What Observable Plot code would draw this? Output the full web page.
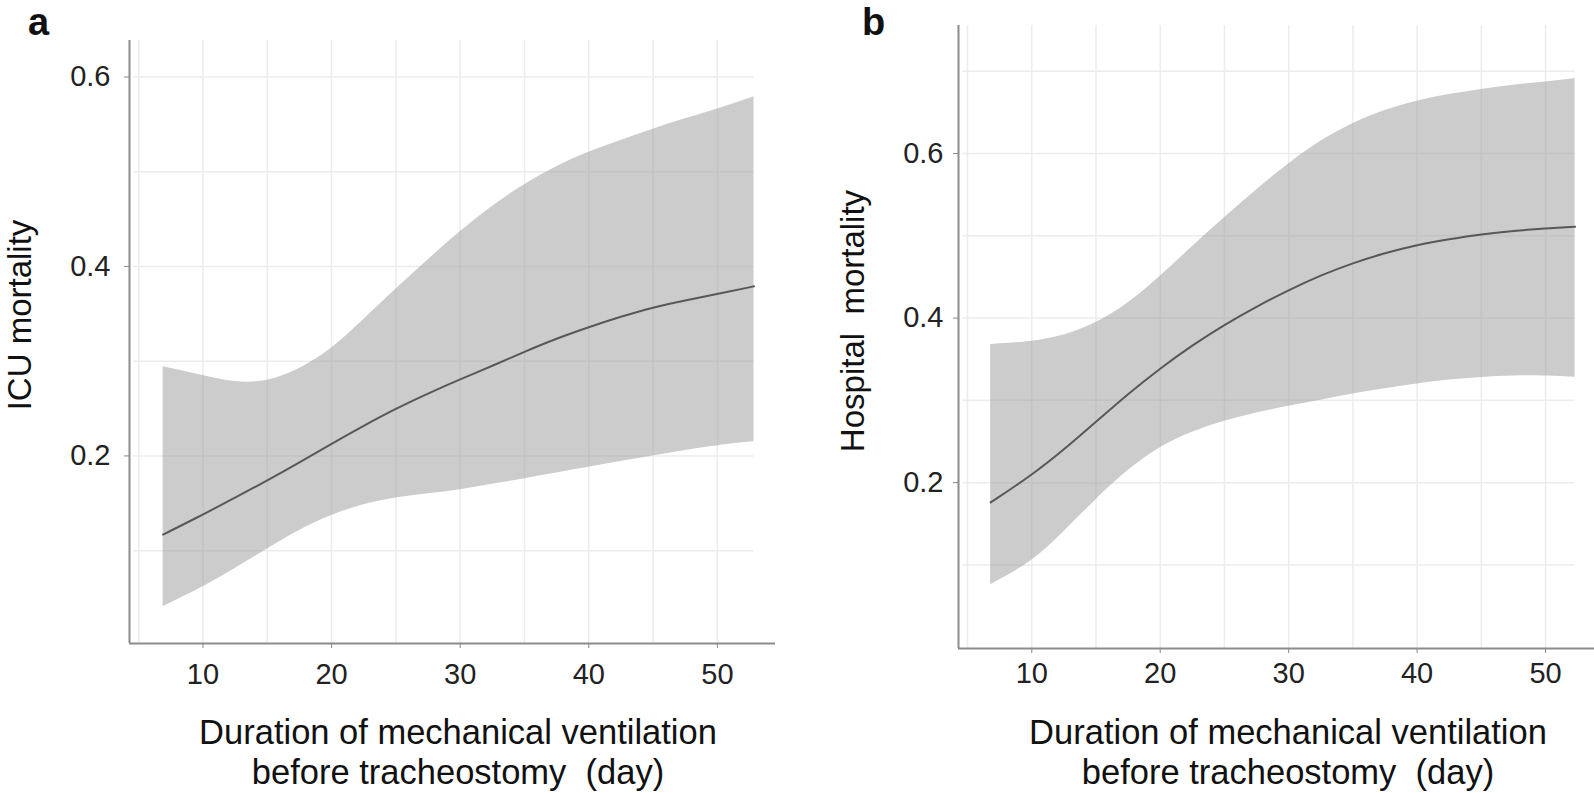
<!DOCTYPE html>
<html>
<head>
<meta charset="utf-8">
<script src="https://cdn.jsdelivr.net/npm/d3@7"></script>
<script src="https://cdn.jsdelivr.net/npm/@observablehq/plot@0.6"></script>
<style>
  html, body { margin: 0; padding: 0; background: #fff; }
  #wrap { position: relative; width: 1594px; height: 793px; overflow: hidden;
          font-family: "Liberation Sans", Arial, sans-serif; color: #111; }
  .panel { position: absolute; top: 0; }
  .letter { position: absolute; font-weight: bold; font-size: 38px; line-height: 44px; }
  .ytitle { position: absolute; font-size: 33px; line-height: 37px; white-space: pre;
            transform: translate(-50%, -50%) rotate(-90deg); }
  .xtitle { position: absolute; font-size: 34.5px; line-height: 40px; white-space: pre;
            text-align: center; transform: translateX(-50%); }
</style>
</head>
<body>
<div id="wrap"></div>
<script>
// ---------- data ----------
// Panel a: ICU mortality
const daysA  = [6.9, 10, 12.5, 15, 17.5, 20, 22.5, 25, 27.5, 30, 32.5, 35, 37.5, 40, 42.5, 45, 47.5, 50, 52.85];
const icuFit   = [0.117, 0.138, 0.156, 0.174, 0.193, 0.213, 0.232, 0.250, 0.266, 0.281, 0.295, 0.310, 0.324, 0.336, 0.347, 0.357, 0.364, 0.371, 0.379];
const icuUpper = [0.294, 0.285, 0.277, 0.278, 0.291, 0.312, 0.344, 0.376, 0.407, 0.437, 0.464, 0.487, 0.506, 0.521, 0.533, 0.545, 0.556, 0.566, 0.579];
const icuLower = [0.041, 0.061, 0.081, 0.102, 0.122, 0.138, 0.149, 0.156, 0.160, 0.164, 0.170, 0.176, 0.182, 0.188, 0.194, 0.200, 0.206, 0.211, 0.215];

// Panel b: Hospital mortality
const daysB  = [6.8, 10, 12.5, 15, 17.5, 20, 22.5, 25, 27.5, 30, 32.5, 35, 37.5, 40, 42.5, 45, 47.5, 50, 52.3];
const hospFit   = [0.176, 0.209, 0.240, 0.274, 0.308, 0.339, 0.367, 0.392, 0.414, 0.434, 0.452, 0.467, 0.479, 0.489, 0.496, 0.502, 0.506, 0.509, 0.511];
const hospUpper = [0.368, 0.371, 0.378, 0.393, 0.417, 0.450, 0.487, 0.522, 0.556, 0.588, 0.616, 0.637, 0.653, 0.664, 0.672, 0.678, 0.683, 0.687, 0.691];
const hospLower = [0.076, 0.103, 0.140, 0.180, 0.216, 0.244, 0.262, 0.275, 0.285, 0.293, 0.300, 0.308, 0.314, 0.320, 0.325, 0.328, 0.330, 0.330, 0.328];

// ticks and grid
const xTicks   = [10, 20, 30, 40, 50];
const yTicks   = [0.2, 0.4, 0.6];
const gridDays = [5, 10, 15, 20, 25, 30, 35, 40, 45, 50];
const yGridA   = [0.1, 0.2, 0.3, 0.4, 0.5, 0.6];
const yGridB   = [0.1, 0.2, 0.3, 0.4, 0.5, 0.6, 0.7];

// labels
const letterA = "a", letterB = "b";
const yTitleA = "ICU mortality";
const yTitleB = "Hospital  mortality";
const xTitle  = "Duration of mechanical ventilation\nbefore tracheostomy  (day)";

// ---------- drawing ----------
const FONT = '"Liberation Sans", Arial, sans-serif';

function panel(cfg) {
  const rows = cfg.days.map((d, i) => ({day: d, fit: cfg.fit[i], lo: cfg.lower[i], hi: cfg.upper[i]}));
  const lastDay = d3.max(cfg.days);
  return Plot.plot({
    width: 797, height: 793,
    marginLeft: cfg.ml, marginRight: cfg.mr, marginTop: cfg.mt, marginBottom: cfg.mb,
    x: {domain: cfg.xDomain},
    y: {domain: cfg.yDomain},
    style: {fontSize: "29px", fontFamily: FONT, color: "#222", background: "transparent", overflow: "visible"},
    marks: [
      Plot.ruleX(gridDays, {stroke: "#ececec", strokeWidth: 1.5}),
      Plot.ruleY(cfg.yGrid, {x1: () => cfg.gridStart, x2: () => lastDay, stroke: "#ececec", strokeWidth: 1.5}),
      Plot.areaY(rows, {x: "day", y1: "lo", y2: "hi", fill: "#999999", fillOpacity: 0.5, curve: "basis"}),
      Plot.line(rows, {x: "day", y: "fit", stroke: "#585858", strokeWidth: 2, curve: "basis"}),
      Plot.ruleX([cfg.xDomain[0]], {stroke: "#8c8c8c", strokeWidth: 2}),
      Plot.ruleY([cfg.yDomain[0]], {stroke: "#8c8c8c", strokeWidth: 2}),
      Plot.axisY(yTicks, {tickFormat: d3.format(".1f"), tickSize: 5, tickPadding: cfg.yPad,
                          stroke: "#888", fill: "#222", label: null}),
      Plot.axisX(xTicks, {tickFormat: d3.format("d"), tickSize: 5, tickPadding: cfg.xPad,
                          stroke: "#888", fill: "#222", label: null})
    ]
  });
}

const wrap = document.getElementById("wrap");

const plotA = panel({
  days: daysA, fit: icuFit, upper: icuUpper, lower: icuLower, yGrid: yGridA,
  ml: 129, mr: 22, mt: 40, mb: 150,
  xDomain: [4.285, 54.52], yDomain: [0.002, 0.6385], gridStart: 4.6,
  yPad: 14, xPad: 15
});
const plotB = panel({
  days: daysB, fit: hospFit, upper: hospUpper, lower: hospLower, yGrid: yGridB,
  ml: 161, mr: 0, mt: 25, mb: 145,
  xDomain: [4.296, 53.81], yDomain: [-0.0015, 0.7555], gridStart: 4.64,
  yPad: 10, xPad: 9
});

const boxA = document.createElement("div"); boxA.className = "panel"; boxA.style.left = "0px"; boxA.appendChild(plotA);
const boxB = document.createElement("div"); boxB.className = "panel"; boxB.style.left = "797px"; boxB.appendChild(plotB);
wrap.appendChild(boxA); wrap.appendChild(boxB);

function addText(cls, text, left, top) {
  const el = document.createElement("div");
  el.className = cls; el.textContent = text;
  el.style.left = left + "px"; el.style.top = top + "px";
  wrap.appendChild(el);
}
addText("letter", letterA, 28, 0);
addText("letter", letterB, 862, 0);
addText("ytitle", yTitleA, 19, 315);
addText("ytitle", yTitleB, 852, 321);
addText("xtitle", xTitle, 458, 712);
addText("xtitle", xTitle, 1288, 712);
</script>
</body>
</html>
